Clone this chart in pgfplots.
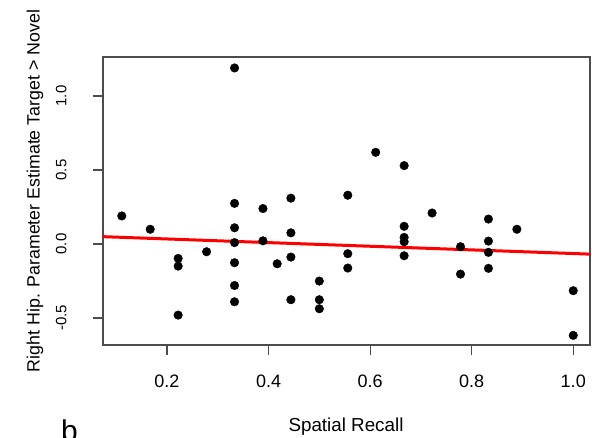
\documentclass[border=0pt]{standalone}
\usepackage{fontspec}
\setmainfont{Liberation Sans}
\usepackage{pgfplots}
\pgfplotsset{compat=1.18}
\begin{document}
\begin{tikzpicture}[x=1pt,y=1pt]
\useasboundingbox (-103,-92) rectangle (489,345);
\begin{axis}[
    scale only axis,
    width=487pt, height=288pt,
    xmin=0.074, xmax=1.033,
    ymin=-0.682, ymax=1.264,
    xtick={0.2,0.4,0.6,0.8,1.0},
    ytick={-0.5,0,0.5,1.0},
    xtick pos=bottom, ytick pos=left,
    tick align=outside,
    major tick length=10pt,
    every tick/.style={black!70, line width=1.2pt},
    axis line style={black!70, line width=1.2pt},
    /pgf/number format/assume math mode=true,
    /pgf/number format/.cd, fixed, fixed zerofill, precision=1, /pgfplots/.cd,
    xticklabel style={font=\fontsize{18}{20}\selectfont, yshift=-16pt},
    yticklabel style={font=\fontsize{15}{17}\selectfont, xshift=-23pt, rotate=90, anchor=south},
    clip=true,
]
\addplot[only marks, mark=*, mark size=4.3pt, black] coordinates {
(0.111,0.19) (0.167,0.10) (0.222,-0.097) (0.222,-0.149) (0.222,-0.48)
(0.278,-0.052) (0.333,1.19) (0.333,0.275) (0.333,0.11) (0.333,0.01)
(0.333,-0.126) (0.333,-0.28) (0.333,-0.39) (0.389,0.24) (0.389,0.022)
(0.417,-0.133) (0.444,0.31) (0.444,0.076) (0.444,-0.088) (0.444,-0.376)
(0.5,-0.25) (0.5,-0.376) (0.5,-0.437) (0.556,0.33) (0.556,-0.065)
(0.556,-0.162) (0.611,0.62) (0.667,0.53) (0.667,0.12) (0.667,0.045)
(0.667,0.016) (0.667,-0.079) (0.722,0.21) (0.778,-0.018) (0.778,-0.203)
(0.833,0.169) (0.833,0.02) (0.833,-0.056) (0.833,-0.164) (0.889,0.10)
(1.0,-0.315) (1.0,-0.617)
};
\addplot[red, line width=3pt] coordinates {(0.074,0.050) (1.033,-0.068)};
\end{axis}
\node[rotate=90, font=\fontsize{17.8}{20}\selectfont] at (-68,154) {Right Hip. Parameter Estimate Target > Novel};
\node[font=\fontsize{18.8}{20}\selectfont] at (243,-82) {Spatial Recall};
\node[anchor=base west, inner sep=0pt, font=\fontsize{30}{32}\selectfont] at (-42,-96) {b};
\end{tikzpicture}
\end{document}
